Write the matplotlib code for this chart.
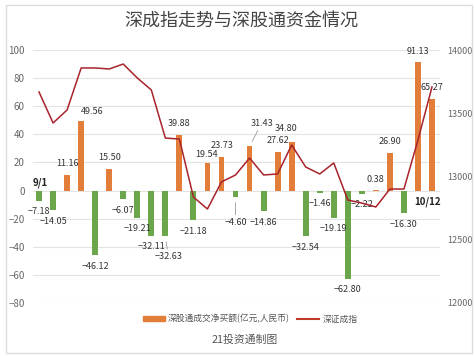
import matplotlib
matplotlib.use("Agg")
import matplotlib.pyplot as plt
from matplotlib.patches import Rectangle, Patch
from matplotlib.lines import Line2D

plt.rcParams["font.family"] = ["Noto Sans CJK SC", "DejaVu Sans"]

# 深股通成交净买额 (亿元) 与 深证成指, 9/1 - 10/12
flows = [-7.18, -14.05, 11.16, 49.56, -46.12, 15.50, -6.07, -19.21, -32.11, -32.63,
         39.88, -21.18, 19.54, 23.73, -4.60, 31.43, -14.86, 27.62, 34.80, -32.54,
         -1.46, -19.19, -62.80, -2.22, 0.38, 26.90, -16.30, 91.13, 65.27]
index = [13668, 13423, 13526, 13858, 13858, 13850, 13889, 13779, 13684, 13304,
         13296, 12838, 12743, 12957, 13012, 13146, 13012, 13020, 13249, 13075,
         13020, 13107, 12814, 12790, 12759, 12901, 12901, 13289, 13708]
first_day, last_day = "9/1", "10/12"

title = "深成指走势与深股通资金情况"
bar_name = "深股通成交净买额(亿元,人民币)"
line_name = "深证成指"
footer = "21投资通制图"

# label placement tweaks (pixel offsets from bar end), leader line flag
label_fix = {3: (11, 9, False), 9: (3, -20, True), 12: (-1, 9, False), 13: (1, 12, False),
             14: (0, -25, True), 15: (12, 23, True), 18: (-6, 13, False)}

ORANGE = "#E27E3A"
GREEN = "#6BA74A"
RED = "#A8232B"
W, H = 475, 356

fig = plt.figure(figsize=(W / 100, H / 100), dpi=100)
fig.patches.append(Rectangle((6 / W, 1 - 353 / H), 466 / W, 348 / H, transform=fig.transFigure,
                             fill=False, edgecolor="#dcdcdc", lw=1))

ax = fig.add_axes([33 / W, 1 - 303 / H, 407 / W, 253 / H])
x = list(range(len(flows)))
colors = [ORANGE if v >= 0 else GREEN for v in flows]
ax.bar(x, flows, width=0.42, color=colors, zorder=2)
ax.set_xlim(-0.43, 28.57)
ax.set_ylim(-80, 100)
ax.set_yticks(range(-80, 101, 20))
ax.grid(axis="y", color="#e3e3e3", lw=0.8, zorder=0)
ax.set_xticks([])
for s in ax.spines.values():
    s.set_visible(False)
ax.tick_params(axis="y", length=0, pad=6, labelsize=7, labelcolor="#666666")

for i, v in enumerate(flows):
    dx, dy, lead = label_fix.get(i, (0, 11 if v >= 0 else -11, False))
    ap = dict(arrowstyle="-", color="#9a9a9a", lw=0.6, shrinkA=0, shrinkB=4) if lead else None
    ax.annotate("%.2f" % v if v >= 0 else "\u2212%.2f" % abs(v), (i, v),
                xytext=(dx, dy), textcoords="offset pixels", ha="center", va="center",
                fontsize=6.5, color="#333333", arrowprops=ap, zorder=5)

ax.annotate(first_day, (0, 0), xytext=(1, 8), textcoords="offset pixels",
            ha="center", va="center", fontsize=7, color="#222222", fontweight="bold")
ax.annotate(last_day, (len(flows) - 1, 0), xytext=(-4, -11), textcoords="offset pixels",
            ha="center", va="center", fontsize=7, color="#222222", fontweight="bold")

ax2 = ax.twinx()
ax2.plot(x, index, color=RED, lw=1.1, solid_joinstyle="round", zorder=3)
ax2.set_ylim(12000, 14000)
ax2.set_yticks(range(12000, 14001, 500))
for s in ax2.spines.values():
    s.set_visible(False)
ax2.tick_params(axis="y", length=0, pad=5, labelsize=6.5, labelcolor="#666666")

fig.text(241 / W, 1 - 21 / H, title, ha="center", va="center", fontsize=13, color="#444444")

handles = [Patch(color=ORANGE), Line2D([], [], color="#C0392B", lw=1.5)]
fig.legend(handles, [bar_name, line_name], loc="center", bbox_to_anchor=(250 / W, 1 - 319 / H),
           ncol=2, frameon=False, fontsize=6.3, handlelength=2.5, handleheight=0.6,
           handletextpad=0.4, columnspacing=0.8, labelcolor="#555555")
fig.text(245 / W, 1 - 340 / H, footer, ha="center", va="center", fontsize=7.8, color="#555555")

fig.savefig("out.png", dpi=100)
